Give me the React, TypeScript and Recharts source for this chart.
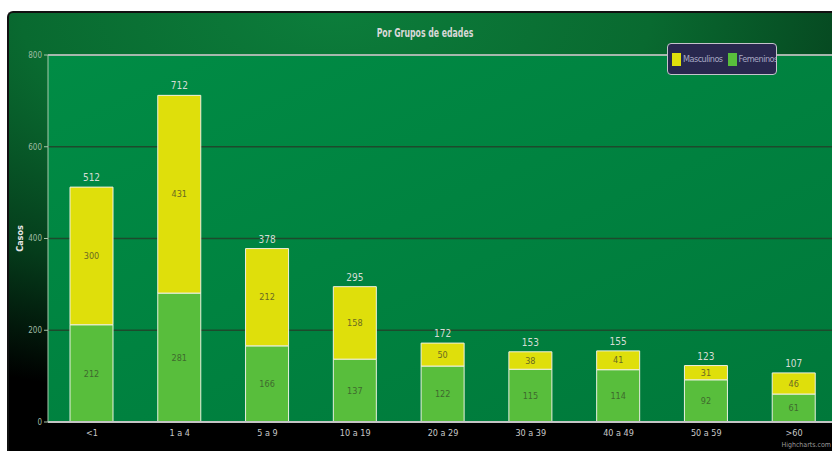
import React from 'react';
import {
  BarChart,
  Bar,
  XAxis,
  YAxis,
  CartesianGrid,
  LabelList,
  ReferenceLine
} from 'recharts';

// Casos por grupo de edad, separados por sexo
const ageGroups = ['<1', '1 a 4', '5 a 9', '10 a 19', '20 a 29', '30 a 39', '40 a 49', '50 a 59', '>60'];
const femeninos = [212, 281, 166, 137, 122, 115, 114, 92, 61];
const masculinos = [300, 431, 212, 158, 50, 38, 41, 31, 46];
const yTicks = [0, 200, 400, 600, 800];

const chartData = ageGroups.map((grupo, i) => ({
  grupo,
  femeninos: femeninos[i],
  masculinos: masculinos[i],
  total: femeninos[i] + masculinos[i]
}));

const FONT = '"Liberation Sans Narrow", "DejaVu Sans Condensed", "Roboto", sans-serif';
const YELLOW = '#dfdf0b';
const GREEN = '#58be3c';

const App: React.FC = () => {
  return (
    <div style={{ position: 'absolute', left: 0, top: 0, width: 832, height: 451, overflow: 'hidden', background: '#fff' }}>
      {/* Frame with the dark green background */}
      <div
        style={{
          position: 'absolute',
          left: 7,
          top: 11,
          width: 860,
          height: 470,
          borderLeft: '2px solid #111',
          borderTop: '2px solid #111',
          borderTopLeftRadius: 6,
          background: 'radial-gradient(ellipse 900px 430px at 38% 0%, #0c7d3b 0%, #096a30 35%, #053c1b 65%, #000 92%)'
        }}
      />

      <div
        style={{
          position: 'absolute',
          left: 0,
          top: 26,
          width: 850,
          textAlign: 'center',
          fontFamily: FONT,
          fontWeight: 'bold',
          fontSize: 12,
          color: '#d8d8d8',
          transform: 'scaleX(0.72)',
          transformOrigin: '425px 0'
        }}
      >
        Por Grupos de edades
      </div>

      <div style={{ position: 'absolute', left: 0, top: 0 }}>
        <BarChart
          width={838}
          height={451}
          data={chartData}
          margin={{ top: 55, right: 0, left: 0, bottom: 0 }}
        >
          <defs>
            <linearGradient id="plotBg" x1="0" y1="0" x2="1" y2="1">
              <stop offset="0%" stopColor="#008c45" />
              <stop offset="100%" stopColor="#00783a" />
            </linearGradient>
          </defs>
          <CartesianGrid vertical={false} stroke="#1d4a2c" strokeWidth={1.5} fill="url(#plotBg)" fillOpacity={1} />
          <XAxis
            dataKey="grupo"
            height={29}
            axisLine={{ stroke: '#c4c4c4', strokeWidth: 2 }}
            tickLine={false}
            tick={{ fill: '#c8c8c8', fontSize: 9, fontFamily: FONT }}
            interval={0}
          />
          <YAxis
            width={48}
            domain={[0, 800]}
            ticks={yTicks}
            axisLine={{ stroke: '#a9c9ac', strokeWidth: 1 }}
            tickLine={{ stroke: '#a9c9ac' }}
            tickSize={4}
            tick={{ fill: '#a0bca4', fontSize: 8, fontFamily: FONT }}
            label={{
              value: 'Casos',
              angle: -90,
              position: 'insideLeft',
              offset: 20,
              style: { fill: '#e8e8e8', fontSize: 9, fontWeight: 'bold', fontFamily: FONT, textAnchor: 'middle' }
            }}
          />
          <ReferenceLine y={800} stroke="#d8d8d8" strokeWidth={1.5} />
          <Bar dataKey="femeninos" stackId="casos" fill={GREEN} stroke="#e8f0e0" strokeWidth={1} barSize={43} isAnimationActive={false}>
            <LabelList dataKey="femeninos" position="center" fill="#3f6a2e" fontSize={9} fontFamily={FONT} />
          </Bar>
          <Bar dataKey="masculinos" stackId="casos" fill={YELLOW} stroke="#f0f0e0" strokeWidth={1} barSize={43} isAnimationActive={false}>
            <LabelList dataKey="masculinos" position="center" fill="#6a6a22" fontSize={9} fontFamily={FONT} />
            <LabelList dataKey="total" position="top" offset={6} fill="#d4dcd4" fontSize={10} fontFamily={FONT} />
          </Bar>
        </BarChart>
      </div>

      {/* Legend */}
      <div
        style={{
          position: 'absolute',
          left: 667,
          top: 43,
          width: 110,
          height: 32,
          background: '#28284e',
          border: '1px solid #c4c4cc',
          borderRadius: 4,
          display: 'flex',
          alignItems: 'center',
          paddingLeft: 4,
          boxSizing: 'border-box',
          fontFamily: FONT,
          fontSize: 9,
          letterSpacing: -0.5,
          color: '#a8a8c4',
          whiteSpace: 'nowrap',
          overflow: 'hidden'
        }}
      >
        <span style={{ flexShrink: 0, display: 'inline-block', width: 9, height: 13, background: YELLOW, marginRight: 2 }} />
        <span style={{ flexShrink: 0, marginRight: 5 }}>Masculinos</span>
        <span style={{ flexShrink: 0, display: 'inline-block', width: 9, height: 13, background: GREEN, marginRight: 2 }} />
        <span style={{ flexShrink: 0 }}>Femeninos</span>
      </div>

      <div
        style={{
          position: 'absolute',
          right: 1,
          top: 441,
          fontFamily: FONT,
          fontSize: 7,
          color: '#9a9a9a',
          whiteSpace: 'nowrap'
        }}
      >
        Highcharts.com
      </div>
    </div>
  );
};

export default App;
